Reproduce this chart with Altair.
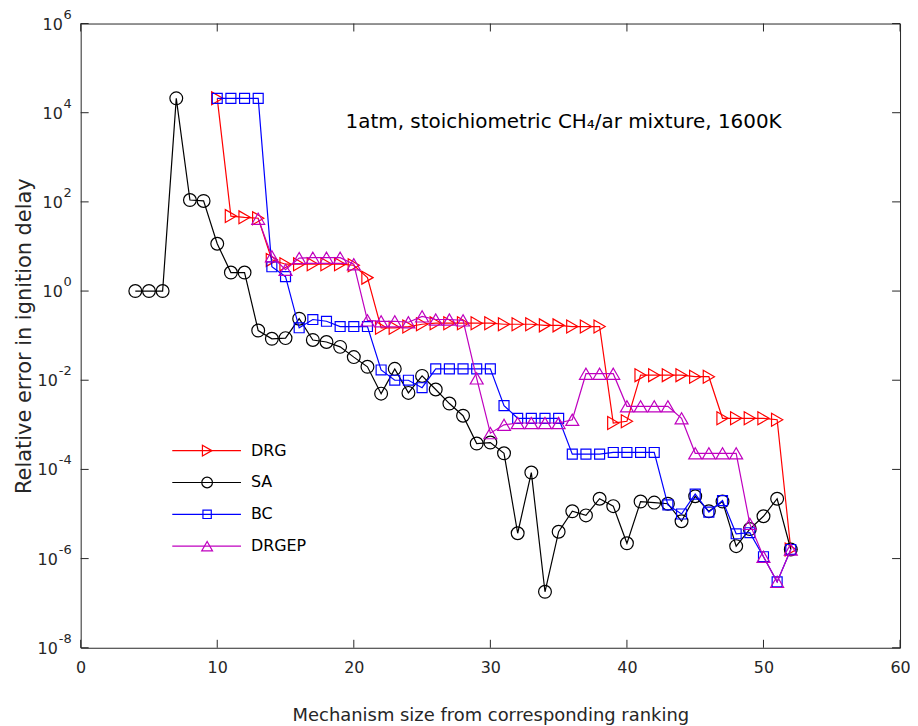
import altair as alt
import pandas as pd

# ---------------- data ----------------
series_names = ["DRG", "SA", "BC", "DRGEP"]
series_colors = ["#ff0000", "#000000", "#0000ff", "#bf00bf"]
series_shapes = ["triangle-right", "circle", "square", "triangle-up"]

drg_x = list(range(10, 53))
drg_y = [2.1e4, 48, 45, 43, 5.0, 4.0, 4.0, 4.0, 4.0, 4.0, 3.8, 2.0,
         0.15, 0.15, 0.16, 0.18, 0.19, 0.19, 0.19, 0.19, 0.19, 0.18, 0.18,
         0.18, 0.17, 0.17, 0.16, 0.16, 0.16, 1.1e-3, 1.2e-3, 0.013, 0.013,
         0.013, 0.013, 0.012, 0.012, 1.4e-3, 1.4e-3, 1.4e-3, 1.4e-3, 1.3e-3,
         1.6e-6]

sa_x = list(range(4, 53))
sa_y = [1.0, 1.0, 1.0, 2.1e4, 110, 105, 11.5, 2.6, 2.6, 0.13, 0.085, 0.088,
        0.24, 0.08, 0.072, 0.056, 0.033, 0.02, 0.005, 0.018, 0.0052, 0.0125,
        0.0062, 0.003, 0.0016, 3.8e-4, 4.0e-4, 2.3e-4, 3.7e-6, 8.5e-5, 1.8e-7,
        4.0e-6, 1.15e-5, 9.3e-6, 2.2e-5, 1.5e-5, 2.2e-6, 1.9e-5, 1.8e-5,
        1.7e-5, 6.9e-6, 2.5e-5, 1.15e-5, 1.9e-5, 1.9e-6, 4.6e-6, 8.9e-6,
        2.2e-5, 1.6e-6]

bc_x = list(range(10, 53))
bc_y = [2.1e4, 2.1e4, 2.1e4, 2.1e4, 3.5, 2.1, 0.15, 0.23, 0.21, 0.16, 0.16,
        0.16, 0.017, 0.010, 0.010, 0.0068, 0.018, 0.018, 0.018, 0.018, 0.018,
        0.0027, 1.4e-3, 1.4e-3, 1.4e-3, 1.4e-3, 2.2e-4, 2.2e-4, 2.2e-4,
        2.4e-4, 2.4e-4, 2.4e-4, 2.4e-4, 1.6e-5, 1.0e-5, 2.8e-5, 1.1e-5,
        2.0e-5, 3.6e-6, 3.8e-6, 1.1e-6, 3.0e-7, 1.6e-6]

drgep_x = list(range(13, 53))
drgep_y = [42, 6.0, 3.0, 5.5, 5.6, 5.6, 5.6, 4.0, 0.22, 0.21, 0.21, 0.20,
           0.27, 0.23, 0.23, 0.22, 0.011, 6.5e-4, 1.0e-3, 1.1e-3, 1.1e-3,
           1.1e-3, 1.1e-3, 1.3e-3, 0.014, 0.014, 0.014, 2.6e-3, 2.6e-3,
           2.6e-3, 2.6e-3, 1.4e-3, 2.3e-4, 2.3e-4, 2.3e-4, 2.3e-4, 6.0e-6,
           1.1e-6, 3.0e-7, 1.6e-6]

x_ticks = [0, 10, 20, 30, 40, 50, 60]
y_tick_exponents = [-8, -6, -4, -2, 0, 2, 4, 6]

x_title = "Mechanism size from corresponding ranking"
y_title = "Relative error in ignition delay"
annotation_text = "1atm, stoichiometric CH\u2084/ar mixture, 1600K"

# ---------------- layout / style ----------------
W, H = 823, 627
FONT = "DejaVu Sans"
AXC = "#262626"
TICK_LEN = 8
ANNOT_X, ANNOT_Y = 19.4, 4500          # annotation anchor (data coords)
LEG_ROW_Y = [429, 461, 493, 525]        # legend rows (px from plot top)
LEG_LINE_X = (92, 161)
LEG_MARK_X = 127
LEG_TEXT_X = 171
MARK_SIZE = {"triangle-right": 169, "circle": 165, "square": 100, "triangle-up": 169}

xs = alt.Scale(domain=[0, 60], nice=False, zero=False)
ys = alt.Scale(type="log", domain=[1e-8, 1e6], nice=False)

xaxis = alt.Axis(values=x_ticks, ticks=False, domain=False, grid=False,
                 labelFont=FONT, labelFontSize=16, labelColor=AXC,
                 labelPadding=12, labelFlush=False,
                 title=x_title, titleFont=FONT, titleFontSize=18,
                 titleFontWeight="normal", titleColor=AXC,
                 titleBaseline="alphabetic", titleY=73)
yaxis = alt.Axis(values=[10.0 ** e for e in y_tick_exponents], labels=False,
                 ticks=False, domain=False, grid=False,
                 title=y_title, titleFont=FONT, titleFontSize=21,
                 titleFontWeight="normal", titleColor=AXC,
                 titleBaseline="middle", titleX=-56, titleY=H / 2,
                 titleAngle=-90)


def X(field="x"):
    return alt.X(f"{field}:Q", scale=xs, axis=xaxis)


def Y(field="y"):
    return alt.Y(f"{field}:Q", scale=ys, axis=yaxis)


series_data = {
    "DRG": (drg_x, drg_y),
    "SA": (sa_x, sa_y),
    "BC": (bc_x, bc_y),
    "DRGEP": (drgep_x, drgep_y),
}

layers = []
for name, color, shape in zip(series_names, series_colors, series_shapes):
    xv, yv = series_data[name]
    df = pd.DataFrame({"x": xv, "y": yv, "series": name})
    layers.append(alt.Chart(df).mark_line(color=color, strokeWidth=1.2)
                  .encode(x=X(), y=Y()))
    layers.append(alt.Chart(df).mark_point(shape=shape, color=color,
                                           size=MARK_SIZE[shape],
                                           strokeWidth=1.2, filled=False,
                                           opacity=1)
                  .encode(x=X(), y=Y()))

# inward ticks on all four sides
xt = pd.DataFrame({"x": x_ticks})
yt = pd.DataFrame({"v": [10.0 ** e for e in y_tick_exponents],
                   "e": [str(e) for e in y_tick_exponents],
                   "neg": [e < 0 for e in y_tick_exponents]})
layers.append(alt.Chart(xt).mark_rule(color=AXC, strokeWidth=1)
              .encode(x=X(), y=alt.value(H), y2=alt.value(H - TICK_LEN)))
layers.append(alt.Chart(xt).mark_rule(color=AXC, strokeWidth=1)
              .encode(x=X(), y=alt.value(0), y2=alt.value(TICK_LEN)))
layers.append(alt.Chart(yt).mark_rule(color=AXC, strokeWidth=1)
              .encode(y=Y("v"), x=alt.value(0), x2=alt.value(TICK_LEN)))
layers.append(alt.Chart(yt).mark_rule(color=AXC, strokeWidth=1)
              .encode(y=Y("v"), x=alt.value(W), x2=alt.value(W - TICK_LEN)))

# y tick labels as 10 with raised exponent
layers.append(alt.Chart(yt).mark_text(align="right", baseline="middle",
                                      font=FONT, fontSize=13, color=AXC,
                                      dx=-9, dy=-9)
              .encode(y=Y("v"), x=alt.value(0), text="e:N"))
layers.append(alt.Chart(yt).transform_filter("!datum.neg")
              .mark_text(align="right", baseline="middle", font=FONT,
                         fontSize=16, color=AXC, dx=-18, dy=1)
              .encode(y=Y("v"), x=alt.value(0), text=alt.value("10")))
layers.append(alt.Chart(yt).transform_filter("datum.neg")
              .mark_text(align="right", baseline="middle", font=FONT,
                         fontSize=16, color=AXC, dx=-23, dy=1)
              .encode(y=Y("v"), x=alt.value(0), text=alt.value("10")))

# annotation
ann = pd.DataFrame({"x": [ANNOT_X], "y": [ANNOT_Y], "t": [annotation_text]})
layers.append(alt.Chart(ann).mark_text(align="left", baseline="alphabetic",
                                       font=FONT, fontSize=20, color="#000")
              .encode(x=X(), y=Y(), text="t:N"))

# legend (line + marker + label)
one = alt.Data(values=[{}])
for name, color, shape, ry in zip(series_names, series_colors, series_shapes,
                                  LEG_ROW_Y):
    layers.append(alt.Chart(one).mark_rule(color=color, strokeWidth=1.2)
                  .encode(x=alt.value(LEG_LINE_X[0]), x2=alt.value(LEG_LINE_X[1]),
                          y=alt.value(ry)))
    layers.append(alt.Chart(one).mark_point(shape=shape, color=color,
                                            size=MARK_SIZE[shape] * 0.7,
                                            strokeWidth=1.2, filled=False,
                                            opacity=1)
                  .encode(x=alt.value(LEG_MARK_X), y=alt.value(ry)))
    layers.append(alt.Chart(one).mark_text(align="left", baseline="middle",
                                           font=FONT, fontSize=16,
                                           color="#000")
                  .encode(x=alt.value(LEG_TEXT_X), y=alt.value(ry),
                          text=alt.value(name)))

chart = (alt.layer(*layers)
         .properties(width=W, height=H,
                     autosize=alt.AutoSizeParams(type="none"),
                     padding={"left": 73, "top": 14, "right": 10, "bottom": 80},
                     background="white")
         .configure_view(stroke=AXC, strokeWidth=1))

chart.save("out.html", embed_options={"renderer": "svg", "actions": False})
